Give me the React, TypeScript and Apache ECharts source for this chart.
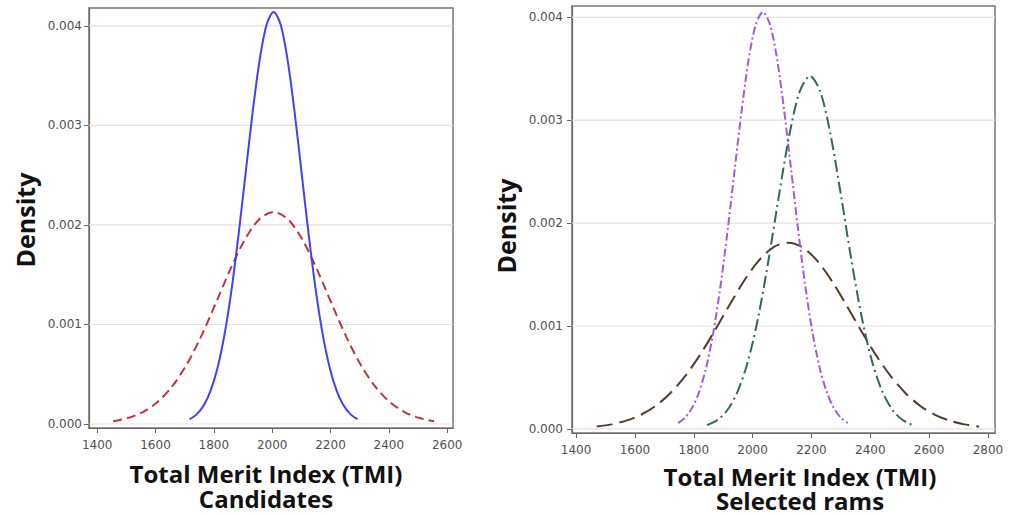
import React, { useEffect, useRef } from "react";
import * as echarts from "echarts";

const xTicksLeft = [1400, 1600, 1800, 2000, 2200, 2400, 2600];
const xTicksRight = [1400, 1600, 1800, 2000, 2200, 2400, 2600, 2800];
const yTicks = [0, 0.001, 0.002, 0.003, 0.004];

// Candidates
const candBlueX = [1717, 1741, 1765, 1789, 1813, 1837, 1861, 1885, 1909, 1933, 1957, 1981, 2005, 2029, 2053, 2077, 2101, 2125, 2149, 2173, 2197, 2221, 2245, 2269, 2293];
const candBlueY = [0.000048, 0.000097, 0.000186, 0.000336, 0.000569, 0.000906, 0.001356, 0.001907, 0.002521, 0.003132, 0.003657, 0.004014, 0.00414, 0.004014, 0.003657, 0.003132, 0.002521, 0.001907, 0.001356, 0.000906, 0.000569, 0.000336, 0.000186, 0.000097, 0.000048];
const candRedX = [1455, 1505, 1555, 1605, 1655, 1705, 1755, 1805, 1855, 1905, 1955, 2005, 2055, 2105, 2155, 2205, 2255, 2305, 2355, 2405, 2455, 2505, 2555];
const candRedY = [0.000028, 0.00006, 0.000118, 0.000216, 0.00037, 0.000588, 0.000871, 0.001202, 0.001544, 0.001846, 0.002055, 0.00213, 0.002055, 0.001846, 0.001544, 0.001202, 0.000871, 0.000588, 0.00037, 0.000216, 0.000118, 0.00006, 0.000028];

// Selected rams
const ramPurpleX = [1747, 1771, 1795, 1819, 1843, 1867, 1891, 1915, 1939, 1963, 1987, 2011, 2035, 2059, 2083, 2107, 2131, 2155, 2179, 2203, 2227, 2251, 2275, 2299, 2323];
const ramPurpleY = [0.000056, 0.000112, 0.000208, 0.000366, 0.000606, 0.000946, 0.001391, 0.001928, 0.002519, 0.0031, 0.003597, 0.003931, 0.00405, 0.003931, 0.003597, 0.0031, 0.002519, 0.001928, 0.001391, 0.000946, 0.000606, 0.000366, 0.000208, 0.000112, 0.000056];
const ramGreenX = [1845, 1880, 1915, 1950, 1985, 2020, 2055, 2090, 2125, 2160, 2195, 2230, 2265, 2300, 2335, 2370, 2405, 2440, 2475, 2510, 2545];
const ramGreenY = [0.000036, 0.000086, 0.000186, 0.000369, 0.000666, 0.001099, 0.001656, 0.002277, 0.002859, 0.003277, 0.00343, 0.003277, 0.002859, 0.002277, 0.001656, 0.001099, 0.000666, 0.000369, 0.000186, 0.000086, 0.000036];
const ramBrownX = [1470, 1520, 1570, 1620, 1670, 1720, 1770, 1820, 1870, 1920, 1970, 2020, 2070, 2120, 2170, 2220, 2270, 2320, 2370, 2420, 2470, 2520, 2570, 2620, 2670, 2720, 2770];
const ramBrownY = [0.000023, 0.000044, 0.00008, 0.000137, 0.000223, 0.000347, 0.000511, 0.000714, 0.000949, 0.001197, 0.001435, 0.001632, 0.001764, 0.00181, 0.001764, 0.001632, 0.001435, 0.001197, 0.000949, 0.000714, 0.000511, 0.000347, 0.000223, 0.000137, 0.00008, 0.000044, 0.000023];

const pairs = (xs: number[], ys: number[]) => xs.map((x, i) => [x, ys[i]]);

const axisLabelStyle = { color: "#505050", fontSize: 12, fontFamily: "'DejaVu Sans', Verdana, sans-serif" };

const leftX = { min: 1372, max: 2620 };
const rightX = { min: 1386, max: 2824 };

function makeX(gridIndex: number, min: number, max: number, ticks: number[]) {
  return {
    type: "value",
    gridIndex,
    min,
    max,
    axisLine: { show: true, onZero: false, lineStyle: { color: "#666", width: 1.2 } },
    axisTick: { show: true, customValues: ticks, length: 5, lineStyle: { color: "#666" } },
    axisLabel: { show: true, customValues: ticks, ...axisLabelStyle, margin: 11, formatter: (v: number) => String(v) },
    splitLine: { show: false },
  };
}
function makeY(gridIndex: number, min: number, max: number, margin: number) {
  return {
    type: "value",
    gridIndex,
    min,
    max,
    axisLine: { show: true, lineStyle: { color: "#666", width: 1.2 } },
    axisTick: { show: true, customValues: yTicks, length: 5, lineStyle: { color: "#666" } },
    axisLabel: { show: true, customValues: yTicks, ...axisLabelStyle, margin, formatter: (v: number) => v.toFixed(3) },
    splitLine: { show: false },
  };
}

function gridLineSeries(idx: number, xr: { min: number; max: number }) {
  return yTicks.map((v) => ({
    type: "line",
    xAxisIndex: idx,
    yAxisIndex: idx,
    data: [[xr.min, v], [xr.max, v]],
    showSymbol: false,
    silent: true,
    lineStyle: { color: "#e2e2e2", width: 1.2, type: "solid" },
    z: 1,
  }));
}

const titleFont = "'Open Sans', 'Noto Sans', sans-serif";
const titleStyle = { fontSize: 24, fontWeight: "bold", fontFamily: titleFont, fill: "#111", align: "center", verticalAlign: "middle" };

export default function App() {
  const ref = useRef<HTMLDivElement>(null);
  useEffect(() => {
    if (!ref.current) return;
    const chart = echarts.init(ref.current, null, { renderer: "svg" });
    chart.setOption({
      animation: false,
      backgroundColor: "#ffffff",
      grid: [
        { left: 89, top: 8, width: 364, height: 420, show: true, borderColor: "#777", borderWidth: 1.5, backgroundColor: "transparent" },
        { left: 572, top: 6, width: 423, height: 427, show: true, borderColor: "#777", borderWidth: 1.5, backgroundColor: "transparent" },
      ],
      xAxis: [makeX(0, leftX.min, leftX.max, xTicksLeft), makeX(1, rightX.min, rightX.max, xTicksRight)],
      yAxis: [makeY(0, -0.00004, 0.00418, 7), makeY(1, -0.00004, 0.00411, 9)],
      series: [
        ...gridLineSeries(0, leftX),
        ...gridLineSeries(1, rightX),
        {
          type: "line", xAxisIndex: 0, yAxisIndex: 0, data: pairs(candRedX, candRedY), smooth: 0.3, showSymbol: false,
          lineStyle: { color: "#c2323c", width: 2, type: [9, 5] }, z: 3,
        },
        {
          type: "line", xAxisIndex: 0, yAxisIndex: 0, data: pairs(candBlueX, candBlueY), smooth: 0.3, showSymbol: false,
          lineStyle: { color: "#4141f5", width: 2, type: "solid" }, z: 4,
        },
        {
          type: "line", xAxisIndex: 1, yAxisIndex: 1, data: pairs(ramBrownX, ramBrownY), smooth: 0.3, showSymbol: false,
          lineStyle: { color: "#553c26", width: 2, type: [16, 7] }, z: 3,
        },
        {
          type: "line", xAxisIndex: 1, yAxisIndex: 1, data: pairs(ramPurpleX, ramPurpleY), smooth: 0.3, showSymbol: false,
          lineStyle: { color: "#a259e0", width: 2, type: [8, 3, 2, 3] }, z: 4,
        },
        {
          type: "line", xAxisIndex: 1, yAxisIndex: 1, data: pairs(ramGreenX, ramGreenY), smooth: 0.3, showSymbol: false,
          lineStyle: { color: "#2a6b5e", width: 2, type: [12, 4, 2, 4] }, z: 4,
        },
      ],
      graphic: [
        { type: "text", x: 25, y: 220, rotation: Math.PI / 2, style: { ...titleStyle, text: "Density", fontSize: 25 } },
        { type: "text", x: 506, y: 226, rotation: Math.PI / 2, style: { ...titleStyle, text: "Density", fontSize: 25 } },
        { type: "text", x: 266, y: 486, style: { ...titleStyle, text: "Total Merit Index (TMI)\nCandidates", lineHeight: 25 } },
        { type: "text", x: 800, y: 488, style: { ...titleStyle, text: "Total Merit Index (TMI)\nSelected rams", lineHeight: 24 } },
      ],
    });
    return () => chart.dispose();
  }, []);
  return <div ref={ref} style={{ position: "fixed", left: 0, top: 0, width: 1029, height: 514, background: "#fff" }} />;
}
